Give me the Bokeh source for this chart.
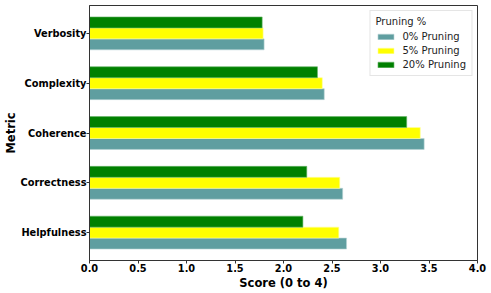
from bokeh.plotting import figure
from bokeh.models import ColumnDataSource, Range1d, FixedTicker, NumeralTickFormatter, Legend, LegendItem
from bokeh.transform import dodge
from bokeh.embed import file_html
from bokeh.resources import INLINE

categories = ["Helpfulness", "Correctness", "Coherence", "Complexity", "Verbosity"]
pruning_0 = [2.65, 2.61, 3.45, 2.42, 1.80]
pruning_5 = [2.57, 2.58, 3.41, 2.40, 1.79]
pruning_20 = [2.20, 2.24, 3.27, 2.35, 1.78]
series_labels = ["0% Pruning", "5% Pruning", "20% Pruning"]
colors = ["#5F9EA0", "#FFFF00", "#008000"]
x_ticks = [0.0, 0.5, 1.0, 1.5, 2.0, 2.5, 3.0, 3.5, 4.0]

src = ColumnDataSource(dict(y=list(range(len(categories))), p0=pruning_0, p5=pruning_5, p20=pruning_20))

FONT = "DejaVu Sans"
p = figure(width=491, height=293, output_backend="svg", toolbar_location=None,
           x_range=Range1d(0, 4), y_range=Range1d(-0.56, 4.56),
           min_border_left=88, min_border_right=14, min_border_top=5, min_border_bottom=33)
p.xgrid.visible = False
p.ygrid.visible = False
p.outline_line_color = "#333333"
p.outline_line_width = 1

h = 0.22
r0 = p.hbar(y=dodge("y", -0.22), right="p0", left=0, height=h, source=src, fill_color=colors[0], line_color="#b8d4d5", line_width=0.6)
r1 = p.hbar(y=dodge("y", 0.0), right="p5", left=0, height=h, source=src, fill_color=colors[1], line_color="#ffffa0", line_width=0.6)
r2 = p.hbar(y=dodge("y", 0.22), right="p20", left=0, height=h, source=src, fill_color=colors[2], line_color="#66b366", line_width=0.6)

legend = Legend(items=[LegendItem(label=series_labels[0], renderers=[r0]),
                       LegendItem(label=series_labels[1], renderers=[r1]),
                       LegendItem(label=series_labels[2], renderers=[r2])],
                location="top_right", title="Pruning %")
legend.title_text_font = FONT
legend.title_text_font_size = "10px"
legend.title_text_font_style = "normal"
legend.title_text_color = "#222222"
legend.label_text_font = FONT
legend.label_text_font_size = "10px"
legend.label_text_color = "#222222"
legend.border_line_color = "#cccccc"
legend.background_fill_alpha = 0.9
legend.glyph_width = 20
legend.glyph_height = 7
legend.label_height = 10
legend.label_standoff = 7
legend.spacing = 3
legend.padding = 5
legend.margin = 5
legend.title_standoff = 4
p.add_layout(legend)

xa = p.xaxis[0]
xa.ticker = FixedTicker(ticks=x_ticks)
xa.formatter = NumeralTickFormatter(format="0.0")
xa.axis_label = "Score (0 to 4)"
ya = p.yaxis[0]
ya.ticker = FixedTicker(ticks=list(range(len(categories))))
ya.major_label_overrides = {i: c for i, c in enumerate(categories)}
ya.axis_label = "Metric"
for ax in (xa, ya):
    ax.axis_label_text_font = FONT
    ax.axis_label_text_font_size = "11.5px"
    ax.axis_label_text_font_style = "bold"
    ax.major_label_text_font = FONT
    ax.major_label_text_font_size = "9.8px"
    ax.major_label_text_font_style = "bold"
    ax.major_label_text_color = "black"
    ax.axis_label_text_color = "black"
    ax.minor_tick_line_color = None
    ax.major_tick_in = 0
    ax.major_tick_out = 3
    ax.axis_line_color = "#333333"
    ax.major_tick_line_color = "#333333"
ya.major_label_standoff = 0
ya.axis_label_standoff = 0
xa.major_label_standoff = 0
xa.axis_label_standoff = 1

open("out.html", "w").write(file_html(p, INLINE))
